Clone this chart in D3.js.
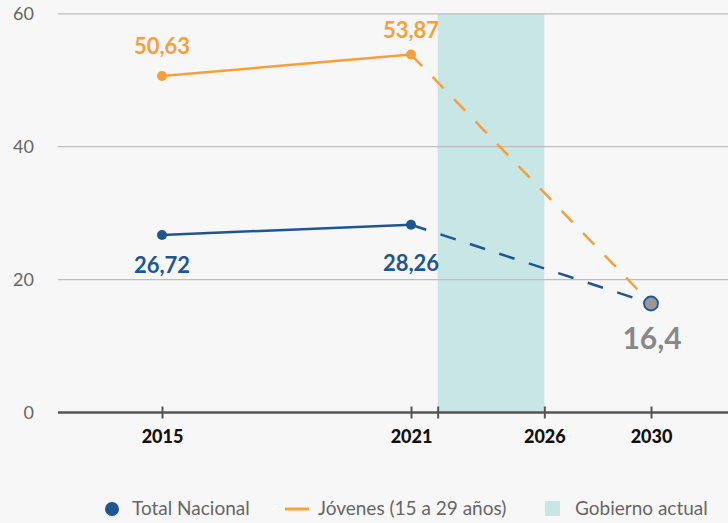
<!DOCTYPE html>
<html>
<head>
<meta charset="utf-8">
<script src="https://cdn.jsdelivr.net/npm/d3@7"></script>
<style>
  body { margin: 0; background: #f7f7f7; }
  svg { display: block; font-family: Lato, "Noto Sans", sans-serif; }
</style>
</head>
<body>
<svg width="728" height="523"></svg>
<script>
// data
const years = [2015, 2021];
const total = [26.72, 28.26];
const jovenes = [50.63, 53.87];
const goalYear = 2030;
const goalValue = 16.4;
const govPeriod = [2022, 2026];
const xTicks = [2015, 2021, 2022, 2026, 2030];
const xTickLabels = ["2015", "2021", "", "2026", "2030"];
const yTicks = [0, 20, 40, 60];
const legendItems = ["Total Nacional", "Jóvenes (15 a 29 años)", "Gobierno actual"];

const blue = "#1f5591", orange = "#f5a03c", band = "#c8e6e6";

const svg = d3.select("svg");

// x axis is compressed before 2021
const x = d3.scaleLinear().domain([2015, 2021, 2030]).range([162, 411, 651]);
const y = d3.scaleLinear().domain([0, 60]).range([412.5, 13.8]);
const left = 58, right = 728;

// shaded government period
svg.append("rect")
   .attr("x", x(govPeriod[0]))
   .attr("y", y(60))
   .attr("width", x(govPeriod[1]) - x(govPeriod[0]))
   .attr("height", y(0) - y(60))
   .attr("fill", band);

// grid lines
svg.selectAll(".grid")
   .data(yTicks.filter(d => d > 0))
   .enter()
   .append("line")
   .attr("x1", left).attr("x2", right)
   .attr("y1", d => y(d)).attr("y2", d => y(d))
   .attr("stroke", "#bdbdbd")
   .attr("stroke-width", 1.2);

// y labels
svg.selectAll(".ylab")
   .data(yTicks)
   .enter()
   .append("text")
   .attr("x", 34)
   .attr("y", d => y(d) + 6)
   .attr("text-anchor", "end")
   .attr("font-size", 18)
   .attr("fill", "#666")
   .text(d => d);

// x axis
const xAxis = svg.append("g")
   .attr("transform", `translate(0,${y(0)})`)
   .call(d3.axisBottom(x).tickValues(xTicks).tickSize(0).tickFormat((d, i) => xTickLabels[i]));
xAxis.select(".domain").remove();
xAxis.append("line")
   .attr("x1", left).attr("x2", right)
   .attr("stroke", "#555").attr("stroke-width", 2.5);
xAxis.selectAll(".tick").append("line")
   .attr("y1", -6).attr("y2", 6)
   .attr("stroke", "#555").attr("stroke-width", 2);
xAxis.selectAll(".tick text")
   .attr("dy", 0).attr("y", 30)
   .attr("font-family", "Lato, sans-serif")
   .attr("font-size", 18)
   .attr("font-weight", 900)
   .attr("fill", "#111");

// lines
const line = d3.line().x(d => x(d[0])).y(d => y(d[1]));
function drawSeries(vals, color, labelDy) {
  const pts = years.map((yr, i) => [yr, vals[i]]);
  svg.append("path")
     .datum(pts)
     .attr("d", line)
     .attr("fill", "none")
     .attr("stroke", color)
     .attr("stroke-width", 2.5);
  svg.append("path")
     .datum([pts[pts.length - 1], [goalYear, goalValue]])
     .attr("d", line)
     .attr("fill", "none")
     .attr("stroke", color)
     .attr("stroke-width", 2.5)
     .attr("stroke-dasharray", "16,15");
  svg.selectAll(null)
     .data(pts)
     .enter()
     .append("circle")
     .attr("cx", d => x(d[0])).attr("cy", d => y(d[1]))
     .attr("r", 5)
     .attr("fill", color);
  svg.selectAll(null)
     .data(pts)
     .enter()
     .append("text")
     .attr("x", d => x(d[0]))
     .attr("y", (d, i) => y(d[1]) + labelDy[i])
     .attr("text-anchor", "middle")
     .attr("font-size", 22)
     .attr("font-weight", 700)
     .attr("fill", color)
     .text(d => d3.format(".2f")(d[1]).replace(".", ","));
}
drawSeries(jovenes, orange, [-22, -17]);
drawSeries(total, blue, [38, 46]);

// goal point
svg.append("circle")
   .attr("cx", x(goalYear)).attr("cy", y(goalValue))
   .attr("r", 7)
   .attr("fill", "#999")
   .attr("stroke", blue)
   .attr("stroke-width", 1.8);
svg.append("text")
   .attr("x", x(goalYear) + 1)
   .attr("y", y(goalValue) + 45)
   .attr("text-anchor", "middle")
   .attr("font-size", 30)
   .attr("font-weight", 700)
   .attr("fill", "#888")
   .text(String(goalValue).replace(".", ","));

// legend
const lg = svg.append("g").attr("font-size", 19).attr("fill", "#666");
const ly = 509;
lg.append("circle").attr("cx", 112).attr("cy", ly).attr("r", 7).attr("fill", blue);
lg.append("text").attr("x", 132).attr("y", ly + 6).text(legendItems[0]);
lg.append("line").attr("x1", 285).attr("x2", 309).attr("y1", ly).attr("y2", ly)
  .attr("stroke", orange).attr("stroke-width", 3);
lg.append("text").attr("x", 318).attr("y", ly + 6).text(legendItems[1]);
lg.append("rect").attr("x", 545).attr("y", ly - 8).attr("width", 15).attr("height", 15).attr("fill", band);
lg.append("text").attr("x", 575).attr("y", ly + 6).text(legendItems[2]);
</script>
</body>
</html>
